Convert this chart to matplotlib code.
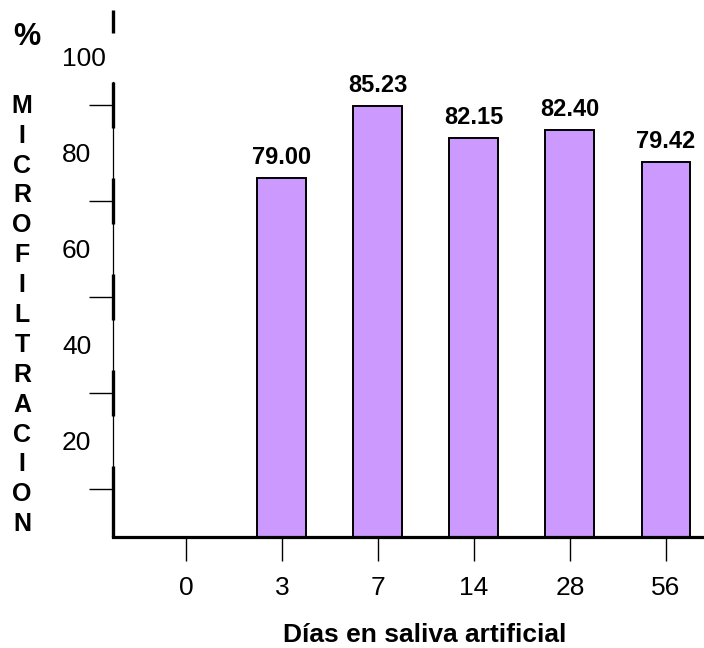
import matplotlib
matplotlib.use("Agg")
import matplotlib.pyplot as plt

plt.rcParams['font.family'] = ['Liberation Sans', 'DejaVu Sans']

# ---- data ----
categories = ["0", "3", "7", "14", "28", "56"]
bar_heights = [0, 74.85, 89.8, 83.1, 84.8, 78.2]      # heights as drawn on the axis
bar_labels = [None, "79.00", "85.23", "82.15", "82.40", "79.42"]
ytick_marks = [10, 30, 50, 70, 90]
ytick_label_values = [20, 40, 60, 80, 100]
ylabel_text = "MICROFILTRACION"
xlabel_text = "Días en saliva artificial"

W, H = 704, 648
fig = plt.figure(figsize=(W / 100, H / 100), dpi=100)
ax = fig.add_axes([113 / W, (H - 537) / H, 591 / W, 527 / H])

x = list(range(len(categories)))
ax.bar(x, bar_heights, width=0.51, color="#CC99FF", edgecolor="black",
       linewidth=1.4, zorder=1)

for xi, h, lab in zip(x, bar_heights, bar_labels):
    if lab:
        ax.annotate(lab, (xi, h), xytext=(0, 10), textcoords="offset points",
                    ha="center", va="baseline", fontsize=17, fontweight="bold")

ax.set_xlim(-0.76, 5.396)
ax.set_ylim(0, 109.8)

for s in ["top", "right", "left"]:
    ax.spines[s].set_visible(False)
ax.spines["bottom"].set_linewidth(2.3)

ax.set_xticks(x)
ax.set_xticklabels(categories, fontsize=19)
ax.tick_params(axis="x", length=17, width=1.0, pad=11, direction="out")

ax.set_yticks(ytick_marks)
ax.set_yticklabels([])
ax.tick_params(axis="y", length=17.3, width=1.0, direction="out")

ytr = ax.get_yaxis_transform()
# thin axis line
ax.plot([0, 0], [0, 94.8], color="black", lw=0.9, transform=ytr, clip_on=False, zorder=3)
# thick segments around tick marks
for i, t in enumerate(ytick_marks):
    lo = 0 if i == 0 else t - 4.8
    ax.plot([0, 0], [lo, t + 4.8], color="black", lw=2.4, transform=ytr,
            clip_on=False, zorder=3, solid_capstyle="butt")
ax.plot([0, 0], [105.0, 109.8], color="black", lw=2.4, transform=ytr,
        clip_on=False, zorder=3, solid_capstyle="butt")

for v in ytick_label_values:
    ax.text(-51 / 591, v - 0.5, str(v), transform=ytr, ha="left", va="center",
            fontsize=19)

fig.text(27 / W, 1 - 37 / H, "%", ha="center", va="center", fontsize=22,
         fontweight="bold")
fig.text(22 / W, 1 - 315 / H, "\n".join(ylabel_text), ha="center", va="center",
         fontsize=18, fontweight="bold", linespacing=1.31)

fig.text(425 / W, 1 - 635 / H, xlabel_text, ha="center", va="center",
         fontsize=19, fontweight="bold")

fig.savefig("out.png", dpi=100)
